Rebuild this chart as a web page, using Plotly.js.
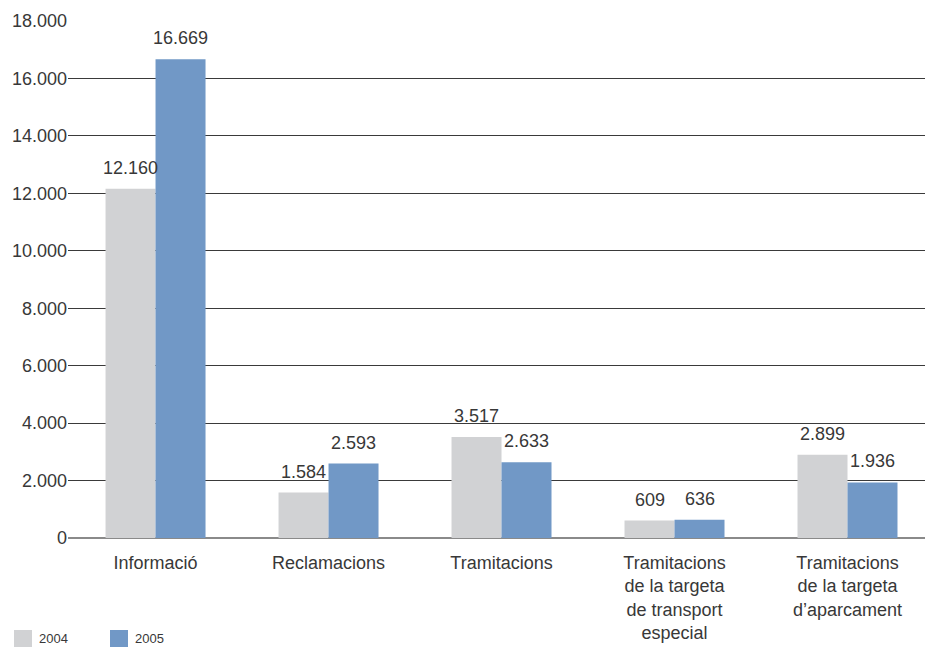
<!DOCTYPE html>
<html>
<head>
<meta charset="utf-8">
<script src="https://cdn.plot.ly/plotly-3.0.1.min.js"></script>
<style>html,body{margin:0;padding:0;background:#fff;}#chart{width:927px;height:647px;}</style>
</head>
<body>
<div id="chart"></div>
<script>
const categories = [
  "Informació",
  "Reclamacions",
  "Tramitacions",
  "Tramitacions<br>de la targeta<br>de transport<br>especial",
  "Tramitacions<br>de la targeta<br>d’aparcament"
];
const seriesNames = ["2004", "2005"];
const values2004 = [12160, 1584, 3517, 609, 2899];
const values2005 = [16669, 2593, 2633, 636, 1936];
const yTickVals = [0, 2000, 4000, 6000, 8000, 10000, 12000, 14000, 16000, 18000];

const colors = ["#d1d2d4", "#7198c6"];
const fontFamily = "Liberation Sans, Arial, Helvetica, sans-serif";
const textColor = "#383838";

const W = 927, H = 647;
const margin = {l: 68, r: 2, t: 21, b: 109};
const bargap = 0.422;
const xRange = [-0.506, 4.448];

function fmt(v) {
  return String(v).replace(/\B(?=(\d{3})+(?!\d))/g, ".");
}

const traces = [values2004, values2005].map((vals, i) => ({
  type: "bar",
  name: seriesNames[i],
  x: categories,
  y: vals,
  marker: {color: colors[i], line: {width: 0}},
  hoverinfo: "none"
}));

// value labels over each bar, offsets derived from the layout
const plotW = W - margin.l - margin.r;
const plotH = H - margin.t - margin.b;
const unitPx = plotW / (xRange[1] - xRange[0]);
const barW = unitPx * (1 - bargap) / 2;
const annotations = [];
[values2004, values2005].forEach((vals, i) => {
  vals.forEach((v, j) => {
    annotations.push({
      xref: "x", yref: "y",
      x: categories[j], y: v,
      xshift: (i === 0 ? -1 : 1) * barW / 2,
      yshift: 9,
      yanchor: "bottom", xanchor: "center",
      showarrow: false,
      text: fmt(v),
      font: {family: fontFamily, size: 18, color: textColor}
    });
  });
});

// custom legend at bottom-left
const shapes = [];
const legendX = [14, 110];
seriesNames.forEach((name, i) => {
  shapes.push({
    type: "rect", xref: "paper", yref: "paper",
    x0: (legendX[i] - margin.l) / plotW,
    x1: (legendX[i] + 18 - margin.l) / plotW,
    y0: -(647 - (H - margin.b)) / plotH,
    y1: -(630 - (H - margin.b)) / plotH,
    fillcolor: colors[i], line: {width: 0}
  });
  annotations.push({
    xref: "paper", yref: "paper",
    x: (legendX[i] + 23 - margin.l) / plotW,
    y: -(648 - (H - margin.b)) / plotH,
    xanchor: "left", yanchor: "bottom",
    showarrow: false,
    text: name,
    font: {family: fontFamily, size: 13, color: textColor}
  });
});

const layout = {
  width: W, height: H,
  margin: margin,
  paper_bgcolor: "#ffffff",
  plot_bgcolor: "#ffffff",
  barmode: "group",
  bargap: bargap,
  bargroupgap: 0,
  showlegend: false,
  separators: ",.",
  font: {family: fontFamily, size: 18, color: textColor},
  xaxis: {
    type: "category",
    range: xRange,
    showgrid: false,
    showline: false,
    ticks: "",
    ticklabelstandoff: 12,
    tickfont: {family: fontFamily, size: 18, color: textColor},
    fixedrange: true
  },
  yaxis: {
    range: [0, 18000],
    tickvals: yTickVals,
    ticktext: yTickVals.map(fmt),
    showgrid: true,
    gridcolor: "#3a3a3a",
    gridwidth: 1,
    zeroline: true,
    zerolinecolor: "#8a8a8a",
    zerolinewidth: 2,
    showline: false,
    ticks: "",
    tickfont: {family: fontFamily, size: 18, color: textColor},
    fixedrange: true
  },
  shapes: shapes,
  annotations: annotations
};

Plotly.newPlot("chart", traces, layout, {displayModeBar: false, staticPlot: true});
</script>
</body>
</html>
